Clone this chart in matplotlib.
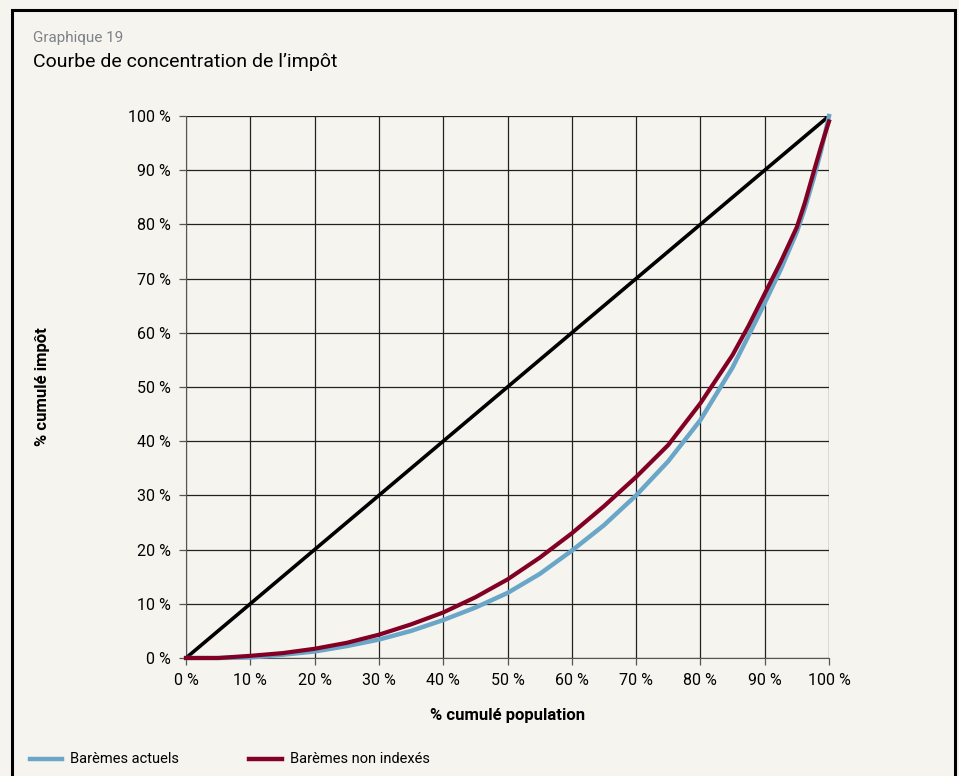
import matplotlib
matplotlib.use("Agg")
import matplotlib.pyplot as plt
from matplotlib.patches import Rectangle
from matplotlib.lines import Line2D
from matplotlib.ticker import FuncFormatter, MultipleLocator

plt.rcParams['font.family'] = ['Roboto', 'DejaVu Sans']

population = [0, 5, 10, 15, 20, 25, 30, 35, 40, 45, 50, 55, 60, 65, 70, 75, 80, 85, 87.5, 90, 92.5,
              95, 96.25, 97.5, 98.75, 100]
baremes_actuels = [0, 0, 0.1, 0.6, 1.2, 2.2, 3.4, 5.0, 7.0, 9.3, 12.0, 15.5, 19.8, 24.5, 30.0, 36.3,
                   43.9, 53.6, 59.5, 65.5, 71.7, 78.6, 83.0, 88.0, 93.5, 100]
baremes_non_indexes = [0, 0, 0.4, 0.9, 1.7, 2.8, 4.3, 6.2, 8.4, 11.2, 14.5, 18.5, 23.0, 28.0, 33.4, 39.3,
                       47.0, 55.9, 61.3, 67.2, 73.1, 79.5, 84.0, 89.2, 94.3, 99.0]
egalite = [0, 100]

bg = '#f6f4ee'
fig = plt.figure(figsize=(9.59, 7.76), dpi=100, facecolor=bg)

fig.add_artist(Rectangle((12/959, -0.05), (955-12)/959, 1.05 - 10/776, transform=fig.transFigure,
                         fill=False, edgecolor='black', linewidth=2.2))

ax = fig.add_axes([186/959, 1-658/776, (829-186)/959, (658-116)/776])
ax.set_facecolor(bg)
ax.set_xlim(0, 100)
ax.set_ylim(0, 100)
ax.xaxis.set_major_locator(MultipleLocator(10))
ax.yaxis.set_major_locator(MultipleLocator(10))
fmt = FuncFormatter(lambda v, p: f"{int(round(v))} %")
ax.xaxis.set_major_formatter(fmt)
ax.yaxis.set_major_formatter(fmt)
ax.grid(True, color='#222222', linewidth=0.9)
ax.set_axisbelow(True)
for s in ax.spines.values():
    s.set_visible(False)
ax.spines['left'].set_visible(True)
ax.spines['bottom'].set_visible(True)
ax.spines['left'].set_color('#555555')
ax.spines['bottom'].set_color('#555555')
ax.tick_params(axis='both', length=5, width=0.9, color='#555555', labelsize=11.5, pad=6)

ax.plot(egalite, egalite, color='black', linewidth=2.6, solid_capstyle='butt', zorder=3)
ax.plot(population, baremes_actuels, color='#6aa6c8', linewidth=3.2, zorder=4, clip_on=False)
ax.plot(population, baremes_non_indexes, color='#830025', linewidth=3.0, zorder=5, clip_on=False)

ax.set_xlabel('% cumulé population', fontsize=12, fontweight='bold', labelpad=14)
ax.set_ylabel('% cumulé impôt', fontsize=12, fontweight='bold', labelpad=56)

fig.text(33/959, 1-38/776, 'Graphique 19', fontsize=11, color='#7d8288', va='center', ha='left')
fig.text(33/959, 1-62/776, "Courbe de concentration de l\u2019impôt", fontsize=14, color='black',
         va='center', ha='left')

# legend
ly = 1 - 759/776
fig.add_artist(Line2D([30/959, 62/959], [ly, ly], color='#6aa6c8', linewidth=3.2, transform=fig.transFigure))
fig.text(70/959, ly, 'Barèmes actuels', fontsize=10.5, va='center', ha='left')
fig.add_artist(Line2D([249/959, 282/959], [ly, ly], color='#830025', linewidth=3.2, transform=fig.transFigure))
fig.text(290/959, ly, 'Barèmes non indexés', fontsize=10.5, va='center', ha='left')

fig.savefig('out.png', dpi=100, facecolor=bg)
